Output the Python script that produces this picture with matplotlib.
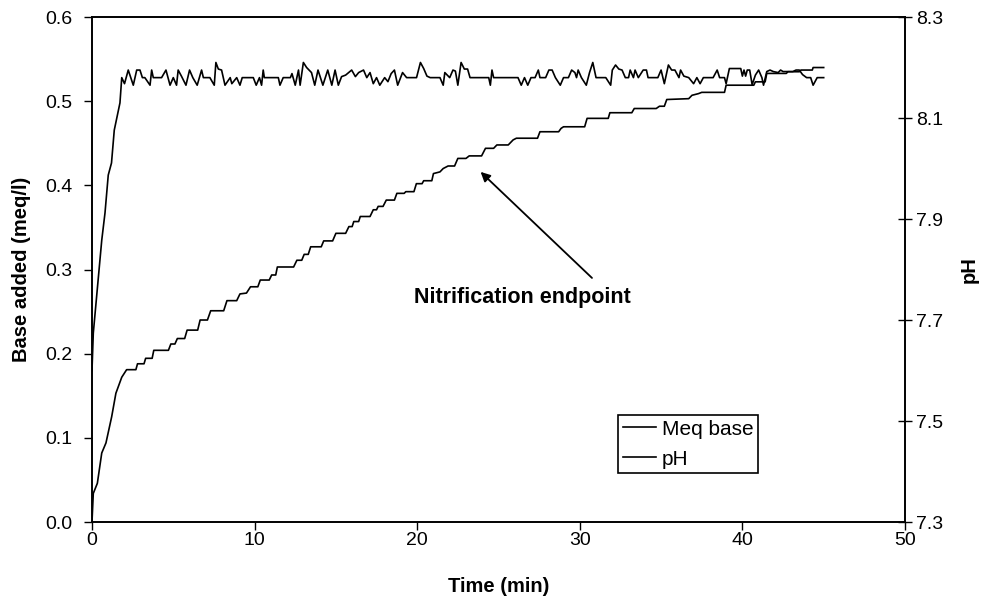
import matplotlib
matplotlib.use('Agg')
import matplotlib.pyplot as plt
from matplotlib.ticker import FormatStrFormatter, MultipleLocator

plt.rcParams['font.family'] = ['Liberation Sans', 'DejaVu Sans']

# Base added (meq/l) vs time (min)
meq_time = [0, 0.08, 0.33, 0.6, 0.86, 1.21, 1.47, 1.83, 2.13,
            2.7, 2.8, 3.2, 3.3, 3.7, 3.8, 4.7, 4.85, 5.1, 5.25, 5.7, 5.85, 6.5, 6.65, 7.1,
            7.3, 8.1, 8.3, 8.9, 9.1, 9.5, 9.75, 10.2, 10.35, 10.9, 11.05, 11.3, 11.4, 12.4,
            12.6, 12.9, 13.05, 13.3, 13.45, 14.1, 14.25, 14.8, 15.0, 15.6, 15.8, 16.0, 16.1,
            16.4, 16.5, 17.1, 17.3, 17.5, 17.6, 17.9, 18.1, 18.6, 18.75, 19.2, 19.3, 19.8,
            19.95, 20.3, 20.4, 20.9, 21.0, 21.4, 21.6, 21.9, 22.3, 22.5, 23.0, 23.2, 23.96,
            24.2, 24.7, 24.9, 25.6, 25.9, 26.1, 26.7, 27.4, 27.55, 28.7, 28.85, 29.0, 30.3,
            30.45, 31.75, 31.85, 33.2, 33.35, 34.7, 34.9, 35.2, 35.35, 36.7, 36.9, 37.3,
            37.5, 38.9, 39.0, 40.7, 40.8, 41.4, 41.5, 42.7, 42.8, 43.5, 43.6, 44.3, 44.35, 45.0]
meq_base = [0, 0.034, 0.046, 0.082, 0.094, 0.125, 0.153, 0.172, 0.181,
            0.181, 0.188, 0.188, 0.1945, 0.1945, 0.204, 0.204, 0.2115, 0.2115, 0.218, 0.218,
            0.228, 0.228, 0.240, 0.240, 0.251, 0.251, 0.263, 0.263, 0.271, 0.272, 0.2795,
            0.2795, 0.2875, 0.2875, 0.2935, 0.2935, 0.303, 0.303, 0.311, 0.311, 0.318, 0.318,
            0.327, 0.327, 0.334, 0.334, 0.343, 0.343, 0.351, 0.351, 0.357, 0.357, 0.363,
            0.363, 0.371, 0.371, 0.375, 0.375, 0.3825, 0.3825, 0.3905, 0.3905, 0.3925,
            0.3925, 0.402, 0.402, 0.4055, 0.4055, 0.414, 0.416, 0.420, 0.423, 0.423, 0.432,
            0.432, 0.435, 0.435, 0.444, 0.444, 0.448, 0.448, 0.454, 0.456, 0.456, 0.456,
            0.4637, 0.4637, 0.4677, 0.4696, 0.4696, 0.4796, 0.4796, 0.4863, 0.4863, 0.4913,
            0.4913, 0.494, 0.494, 0.502, 0.503, 0.507, 0.509, 0.5105, 0.5105, 0.519, 0.519,
            0.523, 0.523, 0.533, 0.533, 0.535, 0.535, 0.537, 0.537, 0.540, 0.540]

# pH vs time (min)
ph_time = [0, 0.08, 0.6, 0.8, 1.0, 1.2, 1.37, 1.72, 1.83,
           2.0, 2.23, 2.54, 2.75, 2.95, 3.1, 3.25, 3.57, 3.67, 3.77, 4.28, 4.55, 4.8, 5.0,
           5.2, 5.3, 5.5, 5.78, 6.0, 6.2, 6.47, 6.74, 6.85, 7.25, 7.52, 7.62, 7.77, 7.97,
           8.18, 8.5, 8.6, 8.9, 9.1, 9.24, 9.92, 10.1, 10.3, 10.43, 10.53, 10.6, 11.46,
           11.56, 11.76, 12.2, 12.3, 12.5, 12.7, 12.8, 13.0, 13.2, 13.5, 13.7, 13.9, 14.2,
           14.5, 14.75, 14.95, 15.15, 15.35, 15.6, 15.97, 16.2, 16.4, 16.7, 16.9, 17.1,
           17.3, 17.5, 17.7, 18.0, 18.2, 18.4, 18.6, 18.8, 19.1, 19.35, 19.96, 20.2, 20.4,
           20.6, 20.8, 21.4, 21.6, 21.7, 22.0, 22.2, 22.35, 22.5, 22.7, 22.9, 23.1, 23.25,
           24.4, 24.5, 24.6, 24.7, 26.2, 26.4, 26.6, 26.8, 27.0, 27.25, 27.45, 27.55, 27.9,
           28.1, 28.3, 28.5, 28.8, 29.0, 29.3, 29.5, 29.7, 29.8, 29.9, 30.1, 30.4, 30.6,
           30.8, 31.0, 31.6, 31.9, 32.0, 32.2, 32.4, 32.6, 32.8, 33.0, 33.1, 33.3,
           33.4, 33.6, 33.9, 34.1, 34.2, 34.8, 35.0, 35.2, 35.45, 35.65, 35.85, 36.1, 36.2,
           36.4, 36.7, 37.0, 37.2, 37.4, 37.6, 38.2, 38.45, 38.6, 38.9, 39.0, 39.2, 39.9,
           40.0, 40.1, 40.2, 40.3, 40.45, 40.6, 40.8, 41.0, 41.2, 41.3, 41.5, 41.7, 41.9,
           42.2, 42.35, 42.5, 43.1, 43.3, 43.5, 43.7, 43.95, 44.2, 44.35, 44.6, 45.0]
ph_value = [7.60, 7.674, 7.858, 7.912, 7.987, 8.011, 8.076, 8.13, 8.18,
            8.168, 8.195, 8.165, 8.195, 8.195, 8.18, 8.18, 8.165, 8.195, 8.18, 8.18, 8.195,
            8.165, 8.18, 8.165, 8.195, 8.183, 8.165, 8.195, 8.18, 8.165, 8.195, 8.18, 8.18,
            8.165, 8.21, 8.197, 8.195, 8.165, 8.18, 8.168, 8.18, 8.165, 8.18, 8.18, 8.165,
            8.18, 8.165, 8.195, 8.18, 8.18, 8.165, 8.18, 8.18, 8.188, 8.165, 8.195, 8.165,
            8.21, 8.20, 8.19, 8.165, 8.195, 8.165, 8.195, 8.165, 8.195, 8.165, 8.182, 8.185,
            8.195, 8.182, 8.19, 8.195, 8.18, 8.19, 8.168, 8.18, 8.165, 8.18, 8.172, 8.188,
            8.195, 8.165, 8.19, 8.18, 8.18, 8.21, 8.198, 8.183, 8.18, 8.18, 8.165, 8.19,
            8.18, 8.195, 8.193, 8.165, 8.21, 8.197, 8.197, 8.18, 8.18, 8.165, 8.195, 8.18,
            8.18, 8.165, 8.18, 8.165, 8.18, 8.18, 8.195, 8.18, 8.18, 8.195, 8.195, 8.18,
            8.165, 8.18, 8.18, 8.195, 8.19, 8.18, 8.195, 8.18, 8.165, 8.19, 8.21, 8.18,
            8.18, 8.165, 8.195, 8.205, 8.197, 8.195, 8.18, 8.18, 8.195, 8.18,
            8.195, 8.18, 8.195, 8.195, 8.18, 8.18, 8.195, 8.168, 8.205, 8.195, 8.195, 8.18,
            8.195, 8.183, 8.18, 8.168, 8.18, 8.168, 8.18, 8.18, 8.195, 8.18, 8.18, 8.168,
            8.198, 8.198, 8.183, 8.195, 8.183, 8.195, 8.195, 8.166, 8.185, 8.195, 8.18,
            8.165, 8.192, 8.195, 8.192, 8.19, 8.195, 8.192, 8.192, 8.195, 8.195, 8.186,
            8.18, 8.18, 8.165, 8.18, 8.18]

FS = 14

fig = plt.figure(figsize=(9.87, 6.06), dpi=100)
ax = fig.add_subplot(111)
fig.subplots_adjust(left=0.0932, right=0.9169, top=0.9719, bottom=0.1386)

line_meq, = ax.plot(meq_time, meq_base, color='black', lw=1.2, label='Meq base')
ax.set_xlim(0, 50)
ax.set_ylim(0, 0.6)
ax.xaxis.set_major_locator(MultipleLocator(10))
ax.yaxis.set_major_locator(MultipleLocator(0.1))
ax.yaxis.set_major_formatter(FormatStrFormatter('%.1f'))
ax.set_xlabel('Time (min)', fontsize=14.5, fontweight='bold', labelpad=20)
ax.set_ylabel('Base added (meq/l)', fontsize=14.5, fontweight='bold', labelpad=10)
ax.tick_params(direction='out', length=6, width=1, labelsize=FS)
ax.tick_params(axis='x', pad=1)
ax.tick_params(axis='y', pad=8)

ax2 = ax.twinx()
line_ph, = ax2.plot(ph_time, ph_value, color='black', lw=1.2, label='pH')
ax2.set_ylim(7.3, 8.3)
ax2.set_yticks([7.3, 7.5, 7.7, 7.9, 8.1, 8.3])
ax2.yaxis.set_major_formatter(FormatStrFormatter('%.1f'))
ax2.set_ylabel('pH', fontsize=14.5, fontweight='bold', labelpad=12)
ax2.tick_params(direction='inout', length=10, width=1, labelsize=FS, pad=3)

for a in (ax, ax2):
    for sp in a.spines.values():
        sp.set_linewidth(1.2)

# arrow and label
ax.annotate('', xy=(23.9, 0.416), xytext=(30.75, 0.29),
            arrowprops=dict(arrowstyle='-|>', color='black', lw=1.3,
                            shrinkA=0, shrinkB=0, mutation_scale=14))
ax.text(26.45, 0.267, 'Nitrification endpoint', fontsize=15.5, fontweight='bold',
        ha='center', va='center')

leg = ax2.legend([line_meq, line_ph], ['Meq base', 'pH'], loc='upper left',
                 bbox_to_anchor=(0.647, 0.212), fontsize=15, frameon=True,
                 fancybox=False, edgecolor='black', framealpha=1,
                 handlelength=1.6, borderpad=0.22, labelspacing=0.54, handletextpad=0.3,
                 borderaxespad=0)
leg.get_frame().set_linewidth(1.2)

fig.savefig('out.png', dpi=100)
